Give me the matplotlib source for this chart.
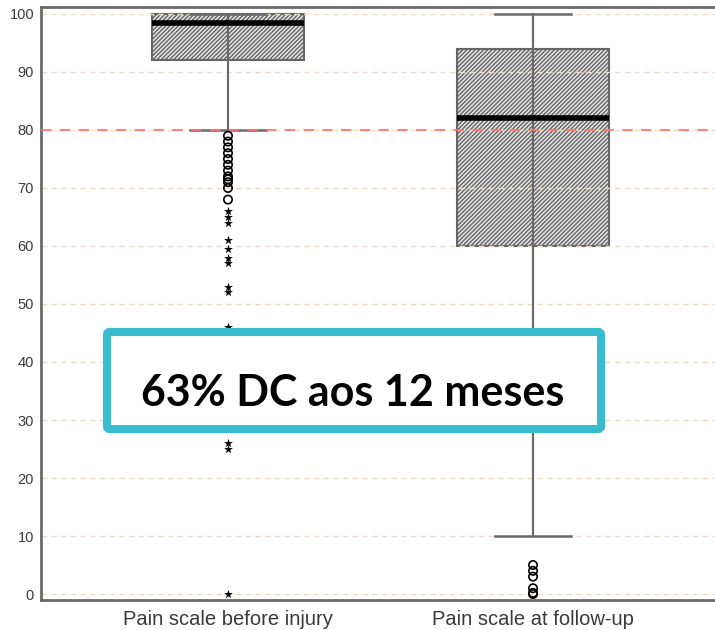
import matplotlib
matplotlib.use("Agg")
import matplotlib.pyplot as plt
from matplotlib.patches import FancyBboxPatch

# Escala de dor: antes da lesão vs. no seguimento
categorias = ["Pain scale before injury", "Pain scale at follow-up"]
q1 = [92, 60]
mediana = [98.5, 82]
q3 = [100, 94]
bigode_inf = [80, 10]
bigode_sup = [100, 100]

# outliers (círculos) e extremos (estrelas)
outliers = [
    [79, 78, 77, 76, 75, 74, 73, 72, 71.5, 71, 70, 68],
    [5, 4, 3, 1, 0.2, 0],
]
extremos = [
    [66, 65, 64, 61, 59.5, 58, 57, 53, 52, 46, 26, 25, 0],
    [],
]
yticks = [0, 10, 20, 30, 40, 50, 60, 70, 80, 90, 100]
corte = 80
mensagem = "63% DC aos 12 meses"

plt.rcParams["hatch.color"] = "#333333"
plt.rcParams["hatch.linewidth"] = 1.0

W, H = 715, 630
fig = plt.figure(figsize=(W / 100, H / 100), dpi=100)
ax = fig.add_axes([41 / W, 30 / H, (W + 5 - 41) / W, 593 / H])

stats = []
for i, nome in enumerate(categorias):
    stats.append(dict(label=nome, med=mediana[i], q1=q1[i], q3=q3[i],
                      whislo=bigode_inf[i], whishi=bigode_sup[i], fliers=[]))

pos = [1, 2]
# linha vertical que atravessa a caixa (estilo SPSS)
ax.vlines(pos, bigode_inf, bigode_sup, color="#6a6a6a", lw=1.5, zorder=1)
bp = ax.bxp(stats, positions=pos, widths=0.5, patch_artist=True,
            showfliers=False,
            boxprops=dict(facecolor="#e4e4e4", edgecolor="#666666", lw=1.5, hatch="////////"),
            medianprops=dict(color="black", lw=4, solid_capstyle="butt"),
            whiskerprops=dict(color="#6a6a6a", lw=1.5),
            capprops=dict(color="#6a6a6a", lw=1.8), capwidths=0.25)
for caixa in bp["boxes"]:
    caixa.set_zorder(0.5)
ax.vlines(pos, q1, q3, color="#6a6a6a", lw=1.5, zorder=2)
for m in bp["medians"]:
    m.set_zorder(3)

for p, vals in zip(pos, outliers):
    ax.scatter([p] * len(vals), vals, s=36, facecolors="none", edgecolors="black",
               linewidths=1.2, zorder=4)
for p, vals in zip(pos, extremos):
    ax.scatter([p] * len(vals), vals, s=45, marker="*", color="black",
               linewidths=0, zorder=4)

ax.axhline(corte, color="#ff7070", ls=(0, (5, 4)), lw=1.5, alpha=0.85, zorder=5)

ax.set_xlim(0.387, 2.613)
ax.set_ylim(-1.03, 101.2)
ax.set_yticks(yticks)
ax.yaxis.grid(True, color="#e8e0c6", ls=(0, (4, 3)), lw=1)
ax.set_axisbelow(True)
ax.tick_params(axis="both", length=0, labelsize=10.5, labelcolor="#3a3a3a")
ax.tick_params(axis="y", pad=5)
ax.tick_params(axis="x", labelsize=14.5, pad=7)
for lbl in ax.get_xticklabels() + ax.get_yticklabels():
    lbl.set_family("Liberation Sans")
for s in ["left", "bottom", "top"]:
    ax.spines[s].set_color("#6a6a6a")
    ax.spines[s].set_linewidth(2)
ax.spines["right"].set_visible(False)

# caixa de destaque
def fx(px):
    return px / W

def fy(py):
    return 1 - py / H

caixa = FancyBboxPatch((fx(107), fy(429)), fx(601) - fx(107), fy(332) - fy(429),
                       boxstyle="round,pad=0,rounding_size=0.004",
                       transform=fig.transFigure, facecolor="white",
                       edgecolor="#38bcd0", lw=5.8, zorder=10)
fig.add_artist(caixa)
fig.text(fx(353), fy(406), mensagem, ha="center", va="baseline",
         fontsize=31, fontweight="bold", family="Lato", color="black", zorder=11)

fig.savefig("out.png", dpi=100)
